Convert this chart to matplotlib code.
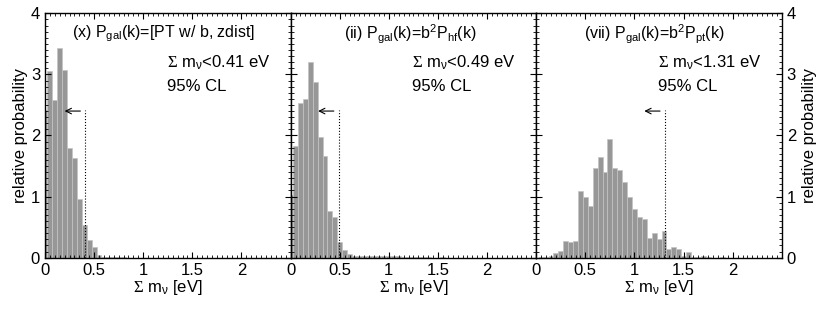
import numpy as np
import matplotlib
matplotlib.use("Agg")
from matplotlib import pyplot as plt
from matplotlib.ticker import MultipleLocator

plt.rcParams['font.family'] = ['Liberation Sans', 'DejaVu Sans']
plt.rcParams['mathtext.fontset'] = 'custom'
plt.rcParams['mathtext.rm'] = 'Liberation Sans'
plt.rcParams['mathtext.it'] = 'Liberation Sans'
plt.rcParams['mathtext.sf'] = 'Liberation Serif'

# histogram heights, bins of 0.05 eV centred at 0, 0.05, 0.10, ...
bin_width = 0.05
hist_x = [2.42, 3.06, 2.58, 3.43, 3.08, 1.80, 1.63, 0.96, 0.54, 0.29, 0.17, 0.04,
          0.015, 0.01, 0.006, 0.005, 0.004, 0.003, 0.003, 0.002, 0.002, 0.002, 0.001]
hist_ii = [1.03, 1.83, 2.54, 2.59, 3.21, 2.87, 1.97, 1.66, 0.76, 0.66, 0.25, 0.13,
           0.06, 0.03, 0.02, 0.02, 0.025, 0.02, 0.02, 0.02, 0.025, 0.02, 0.02, 0.015,
           0.01, 0.01, 0.01, 0.005, 0.005, 0.003, 0.003, 0.005, 0.003, 0.002, 0.002,
           0.002, 0.001, 0.001, 0.001, 0.001]
hist_vii = [0.0, 0.005, 0.01, 0.02, 0.07, 0.11, 0.27, 0.26, 0.27, 1.09, 0.99, 0.84,
            1.46, 1.64, 1.41, 1.94, 1.47, 1.43, 1.24, 1.00, 0.80, 0.66, 0.64, 0.33,
            0.40, 0.31, 0.44, 0.14, 0.17, 0.14, 0.03, 0.09, 0.01, 0.005, 0.02, 0.005,
            0.003, 0.003, 0.005, 0.002, 0.002]

titles = [r'(x) P$_{\rm gal}$(k)=[PT w/ b, zdist]',
          r'(ii) P$_{\rm gal}$(k)=b$^2$P$_{\rm hf}$(k)',
          r'(vii) P$_{\rm gal}$(k)=b$^2$P$_{\rm pt}$(k)']
title_left = [0.27, 0.54, 0.49]
limits = [0.41, 0.49, 1.31]
hists = [hist_x, hist_ii, hist_vii]
sum_m = r'$\mathsf{\Sigma}$ m$_\nu$'

fig = plt.figure(figsize=(8.3, 3.13), dpi=100)
axes = fig.subplots(1, 3, sharey=True)
fig.subplots_adjust(left=0.0542, right=0.942, top=0.9575, bottom=0.1767, wspace=0)

for i, ax in enumerate(axes):
    h = hists[i]
    centers = np.arange(len(h)) * bin_width
    ax.bar(centers, h, width=bin_width, color='#979797', edgecolor='#c4c4c4', linewidth=0.5)
    lim = limits[i]
    ax.plot([lim, lim], [0, 2.42], color='black', linestyle=':', linewidth=0.8)
    ax.annotate('', xy=(lim - 0.21, 2.4), xytext=(lim - 0.05, 2.4),
                arrowprops=dict(arrowstyle='->', lw=0.8, color='black', shrinkA=0, shrinkB=0))
    ax.text(title_left[i], 3.66, titles[i], ha='left', va='center', fontsize=11.5)
    ax.text(1.24, 3.2, sum_m + '<%.2f eV' % lim, ha='left', va='center', fontsize=12)
    ax.text(1.24, 2.8, '95% CL', ha='left', va='center', fontsize=12)
    ax.set_xlim(0, 2.5)
    ax.set_ylim(0, 4)
    ax.set_xticks([0, 0.5, 1, 1.5, 2])
    ax.set_xticklabels(['0', '0.5', '1', '1.5', '2'])
    ax.xaxis.set_minor_locator(MultipleLocator(0.05))
    ax.yaxis.set_major_locator(MultipleLocator(1))
    ax.yaxis.set_minor_locator(MultipleLocator(0.1))
    ax.tick_params(which='both', direction='in', top=True, right=True, labelsize=12)
    ax.tick_params(which='major', length=4, width=0.8)
    ax.tick_params(which='minor', length=2, width=0.6)
    ax.set_xlabel(sum_m + ' [eV]', fontsize=12, labelpad=0)
    for s in ax.spines.values():
        s.set_linewidth(1.0)

axes[0].set_ylabel('relative probability', fontsize=12, labelpad=2)
axes[1].tick_params(labelleft=False)
axes[2].tick_params(labelleft=False, labelright=True)
axes[2].yaxis.set_label_position('right')
axes[2].set_ylabel('relative probability', fontsize=12, labelpad=4)

fig.savefig('out.png', dpi=100)
